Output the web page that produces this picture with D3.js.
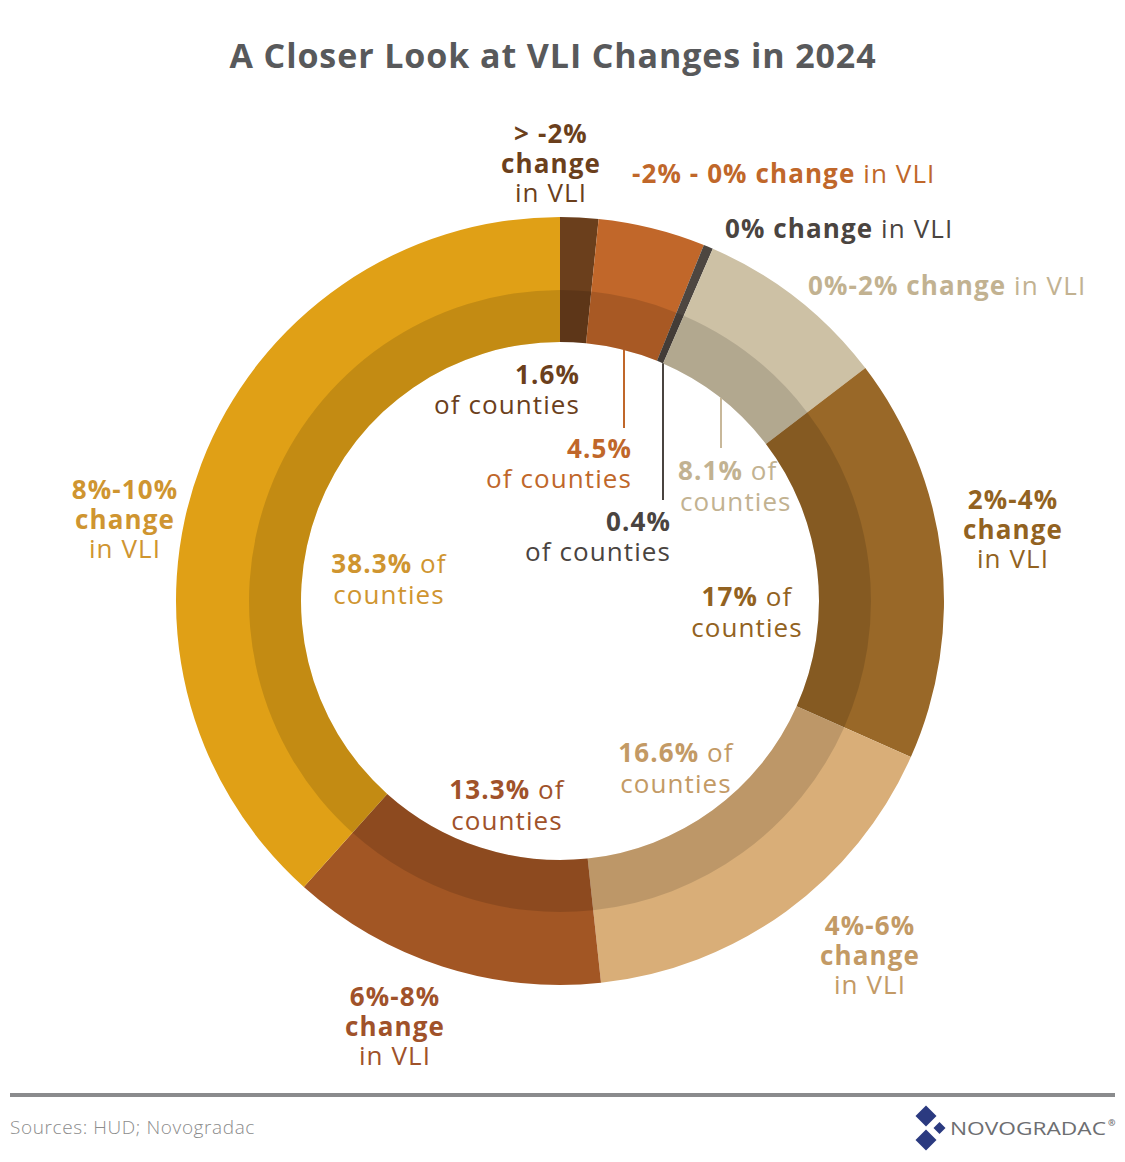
<!DOCTYPE html>
<html>
<head>
<meta charset="utf-8">
<script src="https://cdn.jsdelivr.net/npm/d3@7"></script>
<style>
  html, body { margin: 0; padding: 0; background: #fff; }
  svg { display: block; font-family: "Open Sans", Lato, sans-serif; }
</style>
</head>
<body>
<svg id="chart" width="1125" height="1162"></svg>
<script>
// ---- Data ----
const title = "A Closer Look at VLI Changes in 2024";
const categories = ["> -2%", "-2% - 0%", "0%", "0%-2%", "2%-4%", "4%-6%", "6%-8%", "8%-10%"];
const shares = [1.6, 4.5, 0.4, 8.1, 17, 16.6, 13.3, 38.3];
const shareText = ["1.6%", "4.5%", "0.4%", "8.1%", "17%", "16.6%", "13.3%", "38.3%"];
const sourceText = "Sources: HUD; Novogradac";
const brandText = "NOVOGRADAC";

// ---- Styles ----
const sliceColors = ["#6b3f1c", "#c1672a", "#4d4640", "#cdc1a5", "#996828", "#d9ae78", "#a25624", "#e0a016"];
const textColors  = ["#6b3f1c", "#c0672a", "#4a4440", "#c2b291", "#926221", "#c39a65", "#a0522a", "#cf9530"];
const leaderColors = {1: "#c0672a", 2: "#4a4440", 3: "#c8b89a"};

const W = 1125, H = 1162;
const cx = 560, cy = 601;
const rOuter = 384, rBand = 311, rInner = 259;

// label layout (positions only)
const outerLayout = [
  {mode: "stack", x: 551, y: 143},
  {mode: "line", x: 632, y: 183},
  {mode: "line", x: 725, y: 238},
  {mode: "line", x: 808, y: 295},
  {mode: "stack", x: 1013, y: 509},
  {mode: "stack", x: 870, y: 935},
  {mode: "stack", x: 395, y: 1006},
  {mode: "stack", x: 125, y: 499}
];
const innerLayout = [
  {mode: "sep", x: 580, y: 384, anchor: "end"},
  {mode: "sep", x: 632, y: 458, anchor: "end"},
  {mode: "sep", x: 671, y: 531, anchor: "end"},
  {mode: "of", x: 678, y: 480, anchor: "start"},
  {mode: "of", x: 747, y: 606, anchor: "middle"},
  {mode: "of", x: 676, y: 762, anchor: "middle"},
  {mode: "of", x: 507, y: 799, anchor: "middle"},
  {mode: "of", x: 389, y: 573, anchor: "middle"}
];
const leaderLayout = [
  {i: 1, x: 624, y2: 428},
  {i: 2, x: 663, y2: 500},
  {i: 3, x: 721, y2: 448}
];

const svg = d3.select("#chart");
svg.append("rect").attr("width", W).attr("height", H).attr("fill", "#fff");

// Title
svg.append("text")
  .attr("x", 553).attr("y", 68)
  .attr("text-anchor", "middle")
  .attr("font-size", 34).attr("font-weight", 700)
  .attr("letter-spacing", 0.9)
  .attr("fill", "#58595b")
  .text(title);

// Donut
const pie = d3.pie().sort(null).value(d => d)
  .startAngle(0).endAngle(2 * Math.PI);
const arcs = pie(shares);
const arcOuter = d3.arc().innerRadius(rInner).outerRadius(rOuter);
const arcBand = d3.arc().innerRadius(rInner).outerRadius(rBand);

const g = svg.append("g").attr("transform", `translate(${cx},${cy})`);
g.selectAll("path.slice").data(arcs).join("path")
  .attr("class", "slice")
  .attr("d", arcOuter)
  .attr("fill", (d, i) => sliceColors[i]);
g.selectAll("path.band").data(arcs).join("path")
  .attr("class", "band")
  .attr("d", arcBand)
  .attr("fill", "#000").attr("fill-opacity", 0.13);

// Leader lines
leaderLayout.forEach(l => {
  const dx = l.x - cx;
  const y1 = cy - Math.sqrt(rInner * rInner - dx * dx);
  svg.append("line")
    .attr("x1", l.x).attr("x2", l.x)
    .attr("y1", y1).attr("y2", l.y2)
    .attr("stroke", leaderColors[l.i]).attr("stroke-width", 2);
});

const FS = 26, LH = 29.5, LS = 1.1;

// Outer labels
categories.forEach((c, i) => {
  const L = outerLayout[i];
  const col = textColors[i];
  if (L.mode === "stack") {
    const t = svg.append("text").attr("text-anchor", "middle").attr("fill", col)
      .attr("font-size", FS).attr("letter-spacing", LS);
    t.append("tspan").attr("x", L.x).attr("y", L.y).attr("font-weight", 700).text(c);
    t.append("tspan").attr("x", L.x).attr("y", L.y + LH).attr("font-weight", 700).text("change");
    t.append("tspan").attr("x", L.x).attr("y", L.y + 2 * LH).attr("font-weight", 400).text("in VLI");
  } else {
    const t = svg.append("text").attr("x", L.x).attr("y", L.y).attr("fill", col)
      .attr("font-size", FS).attr("letter-spacing", LS);
    t.append("tspan").attr("font-weight", 700).text(c + " change");
    t.append("tspan").attr("font-weight", 400).text(" in VLI");
  }
});

// Inner labels
shareText.forEach((s, i) => {
  const L = innerLayout[i];
  const col = textColors[i];
  const t = svg.append("text").attr("text-anchor", L.anchor).attr("fill", col)
    .attr("font-size", FS).attr("letter-spacing", LS);
  if (L.mode === "sep") {
    t.append("tspan").attr("x", L.x).attr("y", L.y).attr("font-weight", 700).text(s);
    t.append("tspan").attr("x", L.x).attr("y", L.y + 30).attr("font-weight", 400).text("of counties");
  } else {
    const l1 = t.append("tspan").attr("x", L.x).attr("y", L.y);
    l1.append("tspan").attr("font-weight", 700).text(s);
    l1.append("tspan").attr("font-weight", 400).text(" of");
    t.append("tspan").attr("x", L.anchor === "start" ? L.x + 2 : L.x).attr("y", L.y + 31).attr("font-weight", 400).text("counties");
  }
});

// Footer
svg.append("line").attr("x1", 10).attr("x2", 1115).attr("y1", 1095).attr("y2", 1095)
  .attr("stroke", "#8a8b8d").attr("stroke-width", 4);
svg.append("text").attr("x", 10).attr("y", 1134)
  .attr("font-size", 19).attr("font-weight", 300).attr("fill", "#8c8c8c")
  .attr("letter-spacing", 0.6)
  .text(sourceText);

// Logo
const logo = svg.append("g");
const diamonds = [
  {x: 926, y: 1116, r: 10.5},
  {x: 939.5, y: 1128, r: 6},
  {x: 926, y: 1140, r: 10.5}
];
logo.selectAll("path").data(diamonds).join("path")
  .attr("d", d => `M${d.x},${d.y - d.r}L${d.x + d.r},${d.y}L${d.x},${d.y + d.r}L${d.x - d.r},${d.y}Z`)
  .attr("fill", "#2b3a80");
logo.append("text").attr("x", 950).attr("y", 1135)
  .attr("font-size", 18).attr("font-weight", 400).attr("fill", "#6d6e71")
  .attr("textLength", 156).attr("lengthAdjust", "spacingAndGlyphs")
  .text(brandText);
logo.append("text").attr("x", 1108).attr("y", 1126)
  .attr("font-size", 9).attr("font-weight", 700).attr("fill", "#6d6e71").text("®");
</script>
</body>
</html>
